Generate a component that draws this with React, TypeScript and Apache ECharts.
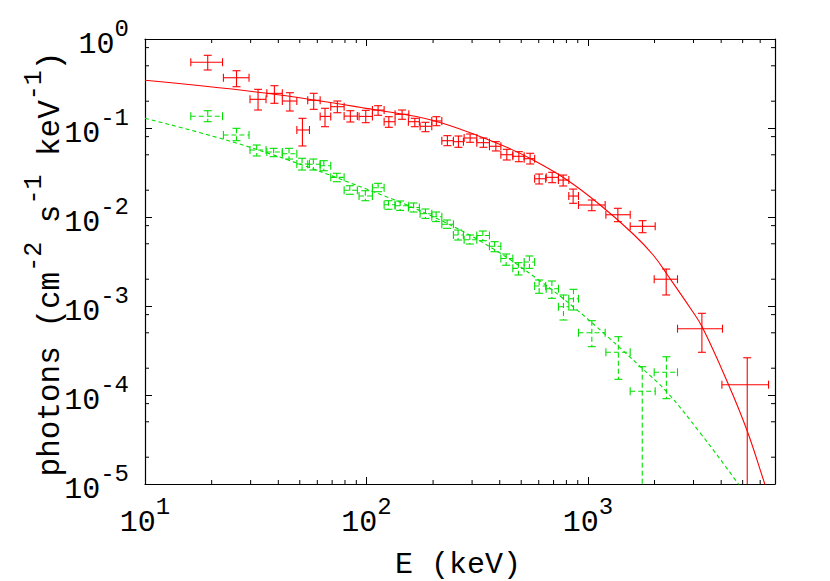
import React, { useEffect, useRef } from 'react';
import * as echarts from 'echarts';

// ---- Data ----
// Red spectrum: energy centre, bin edges, flux, flux error bounds
const redE = [19.2, 25.9, 32.4, 38.4, 45.1, 51.4, 57.8, 65.0, 73.9, 84.6, 99.3, 112.9, 126.2, 144.9, 165.4, 184.7, 207, 232.1, 260.3, 293.9, 337.7, 384.1, 430.5, 487.8, 548.6, 602.6, 690, 773.3, 858, 1042, 1366, 1765, 2258, 3273, 5245];
const redELo = [16.1, 22.6, 29.8, 35.5, 41.7, 48.5, 54.3, 61.8, 69.0, 79.3, 92.6, 106.4, 120.2, 134.7, 154.7, 174.7, 197.3, 219, 247.1, 276.2, 315.1, 359.4, 404.6, 458.3, 515.5, 575, 648.2, 736, 820, 907, 1206, 1553, 1993, 2540, 4030];
const redEHi = [22.4, 29.5, 35.2, 41.7, 48.5, 55.3, 61.8, 69.0, 79.3, 91.0, 106.4, 120.2, 134.7, 155.4, 173.4, 197.3, 219.0, 247.1, 274.2, 315.1, 359.4, 404.6, 458.3, 515.5, 575, 645, 736.7, 820.5, 907, 1197, 1553, 2014, 2540, 4055, 6545];
const redF = [0.547, 0.367, 0.210, 0.245, 0.201, 0.095, 0.205, 0.135, 0.1735, 0.136, 0.135, 0.159, 0.1177, 0.1425, 0.1177, 0.1045, 0.12, 0.072, 0.0702, 0.0772, 0.0684, 0.0623, 0.0501, 0.0481, 0.0452, 0.0269, 0.0279, 0.026, 0.0172, 0.01364, 0.0106, 0.00786, 0.002, 0.000556, 0.0001306];
const redFLo = [0.4485, 0.291, 0.1593, 0.1895, 0.1552, 0.0628, 0.1622, 0.1034, 0.1485, 0.1168, 0.1147, 0.1389, 0.1018, 0.1253, 0.1034, 0.0909, 0.1061, 0.0633, 0.0607, 0.0691, 0.0607, 0.0552, 0.0437, 0.0418, 0.0394, 0.0235, 0.0243, 0.0223, 0.01425, 0.01177, 0.00886, 0.00666, 0.00133, 0.000302, 1e-7];
const redFHi = [0.656, 0.440, 0.272, 0.2987, 0.2492, 0.1285, 0.2454, 0.1665, 0.201, 0.1564, 0.158, 0.178, 0.134, 0.1593, 0.1285, 0.1159, 0.134, 0.082, 0.0813, 0.0856, 0.0772, 0.0702, 0.0576, 0.0542, 0.052, 0.0304, 0.0318, 0.0296, 0.0206, 0.01552, 0.01253, 0.00909, 0.0026, 0.000828, 0.000262];

// Green spectrum
const greenE = [19.2, 25.9, 31.96, 38.1, 44.7, 51.2, 57.6, 64.2, 73.5, 84.1, 98.9, 112.9, 125.7, 142, 163.3, 184.7, 206.4, 231.4, 259.4, 293, 335.5, 379.3, 427.5, 485.8, 544.7, 602.6, 687.8, 776, 861, 1042, 1373, 1760, 2263];
const greenELo = [16.1, 22.6, 29.8, 35.5, 41.7, 48.5, 54.3, 61.8, 69.0, 79.3, 92.6, 106.4, 120.2, 134.7, 154.7, 174.7, 197.3, 219, 247.1, 276.2, 315.1, 359.4, 404.6, 458.3, 515.5, 575, 648.2, 736, 820, 907, 1206, 1553, 1993];
const greenEHi = [22.4, 29.5, 35.2, 41.7, 48.5, 55.3, 61.8, 69.0, 79.3, 91.0, 106.4, 120.2, 134.7, 155.4, 173.4, 197.3, 219, 247.1, 274.2, 315.1, 359.4, 404.6, 458.3, 515.5, 575, 645, 736.7, 820.5, 907, 1197, 1553, 2014, 2540];
const greenF = [0.1353, 0.0834, 0.0566, 0.0537, 0.0514, 0.0394, 0.0391, 0.0377, 0.0279, 0.01995, 0.0172, 0.02134, 0.01374, 0.0134, 0.0128, 0.01089, 0.01005, 0.0083, 0.00628, 0.00556, 0.0062, 0.00469, 0.00342, 0.00265, 0.00312, 0.001678, 0.001565, 0.000982, 0.001208, 0.000501, 0.000302, 0.00011, 0.00018];
const greenFLo = [0.1177, 0.072, 0.0485, 0.0476, 0.0448, 0.0337, 0.0337, 0.0331, 0.0249, 0.018, 0.01524, 0.01924, 0.01221, 0.01187, 0.01138, 0.00965, 0.00888, 0.00746, 0.00551, 0.00497, 0.00542, 0.00407, 0.00287, 0.00223, 0.00265, 0.00139, 0.00122, 0.000696, 0.000902, 0.000349, 0.00015, 1e-7, 0.0000909];
const greenFHi = [0.1564, 0.0992, 0.0644, 0.0591, 0.0591, 0.0457, 0.0448, 0.0429, 0.031, 0.02247, 0.01974, 0.0239, 0.01524, 0.01513, 0.01437, 0.0123, 0.01138, 0.00925, 0.00714, 0.00628, 0.00696, 0.00528, 0.00384, 0.00307, 0.00365, 0.00196, 0.00191, 0.00133, 0.00154, 0.000684, 0.000452, 0.000208, 0.000269];

// Model curves
const redModelE = [10, 35.46, 107.5, 200, 401.7, 566, 806, 1137, 1602, 1972, 2306, 2899, 3284, 4305, 5245, 6278, 6660];
const redModelF = [0.3436, 0.2454, 0.1614, 0.1215, 0.0653, 0.0437, 0.02604, 0.01364, 0.00644, 0.00374, 0.002173, 0.00095, 0.000581, 0.000133, 3.94e-5, 1.02e-5, 6.6e-6];
const greenModelE = [10, 29.8, 107.5, 215.1, 374.6, 608.7, 861, 1219, 1741, 2275, 3216, 4711, 5135];
const greenModelF = [0.1285, 0.0607, 0.01924, 0.00925, 0.00437, 0.00191, 0.000975, 0.00046, 0.000204, 0.000108, 3.74e-5, 1.053e-5, 7.6e-6];

// Axis ticks
const X_MIN = 10;
const X_MAX = 7000;
const Y_MIN = 1e-5;
const Y_MAX = 1;
const xMinorTicks = [20, 30, 40, 50, 60, 70, 80, 90, 200, 300, 400, 500, 600, 700, 800, 900, 2000, 3000, 4000, 5000, 6000];
const yMinorTicks = [2e-5, 5e-5, 8e-5, 2e-4, 5e-4, 8e-4, 2e-3, 5e-3, 8e-3, 0.02, 0.05, 0.08, 0.2, 0.5, 0.8];

const FONT = '"Liberation Mono", "DejaVu Sans Mono", monospace';
const RED = '#ff0000';
const GREEN = '#00e000';

const labelRich = {
  b: { fontFamily: FONT, fontSize: 30, color: '#000', padding: [12, 0, 0, 0], verticalAlign: 'middle' },
  s: { fontFamily: FONT, fontSize: 24, color: '#000', padding: [0, 0, 20, 0], verticalAlign: 'middle' },
};

const powFmt = (v: number) => {
  const lg = Math.log10(v);
  const e = Math.round(lg);
  if (Math.abs(lg - e) > 1e-6) return '';
  return `{b|10}{s|${e}}`;
};

function errorBarRenderer(color: string, dashed: boolean) {
  return (params: any, api: any) => {
    const x = api.value(0);
    const y = api.value(1);
    const c = api.coord([x, y]);
    const pl = api.coord([api.value(2), y]);
    const ph = api.coord([api.value(3), y]);
    const pb = api.coord([x, api.value(4)]);
    const pt = api.coord([x, api.value(5)]);
    const cs = params.coordSys;
    const bottom = cs.y + cs.height;
    let by = pb[1];
    let clipped = false;
    if (by > bottom) {
      by = bottom;
      clipped = true;
    }
    const style: any = { stroke: color, lineWidth: 1.1, fill: null };
    if (dashed) style.lineDash = [5, 3];
    const capStyle: any = { stroke: color, lineWidth: 1.1, fill: null };
    const cap = 4;
    const children: any[] = [
      { type: 'line', shape: { x1: pl[0], y1: c[1], x2: ph[0], y2: c[1] }, style },
      { type: 'line', shape: { x1: c[0], y1: pt[1], x2: c[0], y2: by }, style },
      { type: 'line', shape: { x1: pl[0], y1: c[1] - cap, x2: pl[0], y2: c[1] + cap }, style: capStyle },
      { type: 'line', shape: { x1: ph[0], y1: c[1] - cap, x2: ph[0], y2: c[1] + cap }, style: capStyle },
      { type: 'line', shape: { x1: c[0] - cap, y1: pt[1], x2: c[0] + cap, y2: pt[1] }, style: capStyle },
    ];
    if (!clipped) {
      children.push({ type: 'line', shape: { x1: c[0] - cap, y1: by, x2: c[0] + cap, y2: by }, style: capStyle });
    }
    return { type: 'group', children };
  };
}

export default function App() {
  const ref = useRef<HTMLDivElement>(null);

  useEffect(() => {
    if (!ref.current) return;
    const chart = echarts.init(ref.current, null, { renderer: 'svg' });

    const redData = redE.map((e, i) => [e, redF[i], redELo[i], redEHi[i], redFLo[i], redFHi[i]]);
    const greenData = greenE.map((e, i) => [e, greenF[i], greenELo[i], greenEHi[i], greenFLo[i], greenFHi[i]]);
    const tickData = [
      ...xMinorTicks.map((v) => [v, Y_MIN, 0]),
      ...yMinorTicks.map((v) => [X_MIN, v, 1]),
    ];

    const axisCommon = {
      type: 'log' as const,
      logBase: 10,
      axisLine: { show: true, lineStyle: { color: '#000', width: 1.2 } },
      axisTick: { show: true, inside: true, length: 7, lineStyle: { color: '#000', width: 1 } },
      splitLine: { show: false },
      minorTick: { show: false },
      minorSplitLine: { show: false },
    };

    const option: any = {
      animation: false,
      backgroundColor: '#fff',
      grid: { left: 145, top: 39, width: 630, height: 445, outerBoundsMode: 'none', containLabel: false },
      xAxis: [
        {
          ...axisCommon,
          position: 'bottom',
          min: X_MIN,
          max: X_MAX,
          axisLabel: { show: true, formatter: powFmt, rich: labelRich, margin: 11 },
        },
        {
          ...axisCommon,
          position: 'top',
          min: X_MIN,
          max: X_MAX,
          axisLabel: { show: false },
        },
      ],
      yAxis: [
        {
          ...axisCommon,
          position: 'left',
          min: Y_MIN,
          max: Y_MAX,
          axisLabel: { show: true, formatter: powFmt, rich: labelRich, margin: 16 },
        },
        {
          ...axisCommon,
          position: 'right',
          min: Y_MIN,
          max: Y_MAX,
          axisLabel: { show: false },
        },
      ],
      graphic: [
        {
          type: 'text',
          x: 44,
          y: 264,
          rotation: Math.PI / 2,
          style: {
            text: '{n|photons\u00a0(cm}{s|-2}{n|\u00a0s}{s|-1}{n|\u00a0keV}{s|-1}{n|)}',
            rich: {
              n: { fontFamily: FONT, fontSize: 31, fill: '#000', padding: [12, 0, 0, 0], verticalAlign: 'middle' },
              s: { fontFamily: FONT, fontSize: 25, fill: '#000', padding: [0, 0, 20, 0], verticalAlign: 'middle' },
            },
            align: 'center',
            verticalAlign: 'middle',
          },
        },
        {
          type: 'text',
          x: 458,
          y: 565,
          style: {
            text: 'E (keV)',
            fontFamily: FONT,
            fontSize: 30,
            fill: '#000',
            align: 'center',
            verticalAlign: 'middle',
          },
        },
      ],
      series: [
        {
          type: 'custom',
          name: 'minorTicks',
          silent: true,
          clip: false,
          data: tickData,
          encode: { x: 0, y: 1 },
          renderItem: (params: any, api: any) => {
            const cs = params.coordSys;
            const st = { stroke: '#000', lineWidth: 1 };
            const len = 4;
            if (api.value(2) === 0) {
              const px = api.coord([api.value(0), Y_MIN])[0];
              const b = cs.y + cs.height;
              return {
                type: 'group',
                children: [
                  { type: 'line', shape: { x1: px, y1: b, x2: px, y2: b - len }, style: st },
                  { type: 'line', shape: { x1: px, y1: cs.y, x2: px, y2: cs.y + len }, style: st },
                ],
              };
            }
            const py = api.coord([X_MIN, api.value(1)])[1];
            const r = cs.x + cs.width;
            return {
              type: 'group',
              children: [
                { type: 'line', shape: { x1: cs.x, y1: py, x2: cs.x + len, y2: py }, style: st },
                { type: 'line', shape: { x1: r, y1: py, x2: r - len, y2: py }, style: st },
              ],
            };
          },
        },
        {
          type: 'custom',
          name: 'red data',
          silent: true,
          clip: false,
          data: redData,
          encode: { x: 0, y: 1 },
          renderItem: errorBarRenderer(RED, false),
        },
        {
          type: 'line',
          name: 'red model',
          data: redModelE.map((e, i) => [e, redModelF[i]]),
          showSymbol: false,
          symbol: 'none',
          smooth: 0.4,
          clip: true,
          silent: true,
          lineStyle: { color: RED, width: 1.1 },
        },
        {
          type: 'custom',
          name: 'green data',
          silent: true,
          clip: false,
          data: greenData,
          encode: { x: 0, y: 1 },
          renderItem: errorBarRenderer(GREEN, true),
        },
        {
          type: 'line',
          name: 'green model',
          data: greenModelE.map((e, i) => [e, greenModelF[i]]),
          showSymbol: false,
          symbol: 'none',
          smooth: 0.4,
          clip: true,
          silent: true,
          lineStyle: { color: GREEN, width: 1.1, type: [4, 3] },
        },
      ],
    };

    chart.setOption(option);
    return () => {
      chart.dispose();
    };
  }, []);

  return (
    <div
      ref={ref}
      style={{ position: 'absolute', left: 0, top: 0, width: 830, height: 581, background: '#fff' }}
    />
  );
}
